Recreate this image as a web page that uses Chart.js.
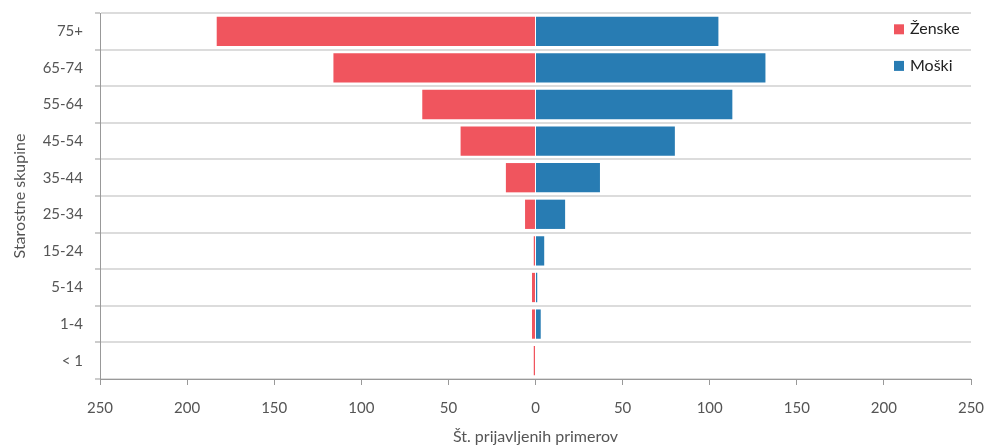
<!DOCTYPE html>
<html>
<head>
<meta charset="utf-8">
<script src="https://cdn.jsdelivr.net/npm/chart.js@4"></script>
<style>
  html, body { margin: 0; padding: 0; background: #fff; }
  #wrap { width: 986px; height: 446px; position: relative; }
</style>
</head>
<body>
<div id="wrap"><canvas id="pyramidChart"></canvas></div>
<script>
// Age groups, oldest at the top
const ageGroups = ['75+', '65-74', '55-64', '45-54', '35-44', '25-34', '15-24', '5-14', '1-4', '< 1'];
// Reported cases per group
const female = [183, 116, 65, 43, 17, 6, 1, 2, 2, 1];
const male = [105, 132, 113, 80, 37, 17, 5, 1, 3, 0];
const xTicks = [-250, -200, -150, -100, -50, 0, 50, 100, 150, 200, 250];

const RED = '#f0555e';
const BLUE = '#287cb3';
const FONT = 'Lato, "Open Sans", sans-serif';

// simple stacked legend in the top right corner of the plot
const cornerLegend = {
    id: 'cornerLegend',
    afterDraw(chart) {
        const { ctx, chartArea } = chart;
        const yScale = chart.scales.y;
        ctx.save();
        ctx.font = '16px ' + FONT;
        ctx.textBaseline = 'middle';
        chart.data.datasets.forEach((ds, i) => {
            const cy = yScale.getPixelForValue(i) - 2;
            const x = chartArea.right - 77;
            ctx.fillStyle = ds.backgroundColor;
            ctx.fillRect(x, cy - 5, 10, 10);
            ctx.fillStyle = '#222';
            ctx.fillText(ds.label, x + 16, cy);
        });
        ctx.restore();
    }
};

// drop the automatic label overflow padding so layout.padding decides the edges
const noOverflow = scale => {
    scale.paddingTop = 0;
    scale.paddingBottom = 0;
    scale.paddingLeft = 0;
    scale.paddingRight = 0;
};

document.addEventListener('DOMContentLoaded', () => {
    const ctx = document.getElementById('pyramidChart');
    new Chart(ctx, {
        type: 'bar',
        data: {
            labels: ageGroups,
            datasets: [{
                label: 'Ženske',
                data: female.map(v => -v),
                backgroundColor: RED,
                categoryPercentage: 0.8,
                barPercentage: 1.0
            }, {
                label: 'Moški',
                data: male,
                backgroundColor: BLUE,
                categoryPercentage: 0.8,
                barPercentage: 1.0
            }]
        },
        options: {
            indexAxis: 'y',
            responsive: true,
            maintainAspectRatio: false,
            animation: false,
            layout: { padding: { top: 13, right: 15, left: 0, bottom: 0 } },
            plugins: {
                legend: { display: false },
                tooltip: { enabled: false }
            },
            scales: {
                x: {
                    stacked: true,
                    min: -250,
                    max: 250,
                    afterBuildTicks: scale => {
                        scale.ticks = xTicks.map(v => ({ value: v }));
                    },
                    afterFit: scale => {
                        scale.height = 67;
                        noOverflow(scale);
                    },
                    grid: {
                        drawOnChartArea: false,
                        drawTicks: true,
                        tickLength: 6,
                        color: '#999'
                    },
                    border: { color: '#999', width: 1 },
                    ticks: {
                        callback: v => Math.abs(v),
                        color: '#555',
                        padding: 14,
                        font: { family: FONT, size: 15 }
                    },
                    title: {
                        display: true,
                        text: 'Št. prijavljenih primerov',
                        color: '#555',
                        padding: { top: 0, bottom: 0 },
                        font: { family: FONT, size: 16 }
                    }
                },
                y: {
                    stacked: true,
                    afterFit: scale => {
                        scale.width = 100;
                        noOverflow(scale);
                    },
                    grid: {
                        color: '#dcdcdc',
                        lineWidth: 2,
                        tickColor: '#999',
                        tickLength: 5,
                        tickWidth: 1
                    },
                    border: { color: '#999', width: 1 },
                    ticks: {
                        color: '#555',
                        padding: 12,
                        font: { family: FONT, size: 15 }
                    },
                    title: {
                        display: true,
                        text: 'Starostne skupine',
                        color: '#555',
                        padding: { top: 10, bottom: 4 },
                        font: { family: FONT, size: 16 }
                    }
                }
            }
        },
        plugins: [cornerLegend]
    });
});
</script>
</body>
</html>
